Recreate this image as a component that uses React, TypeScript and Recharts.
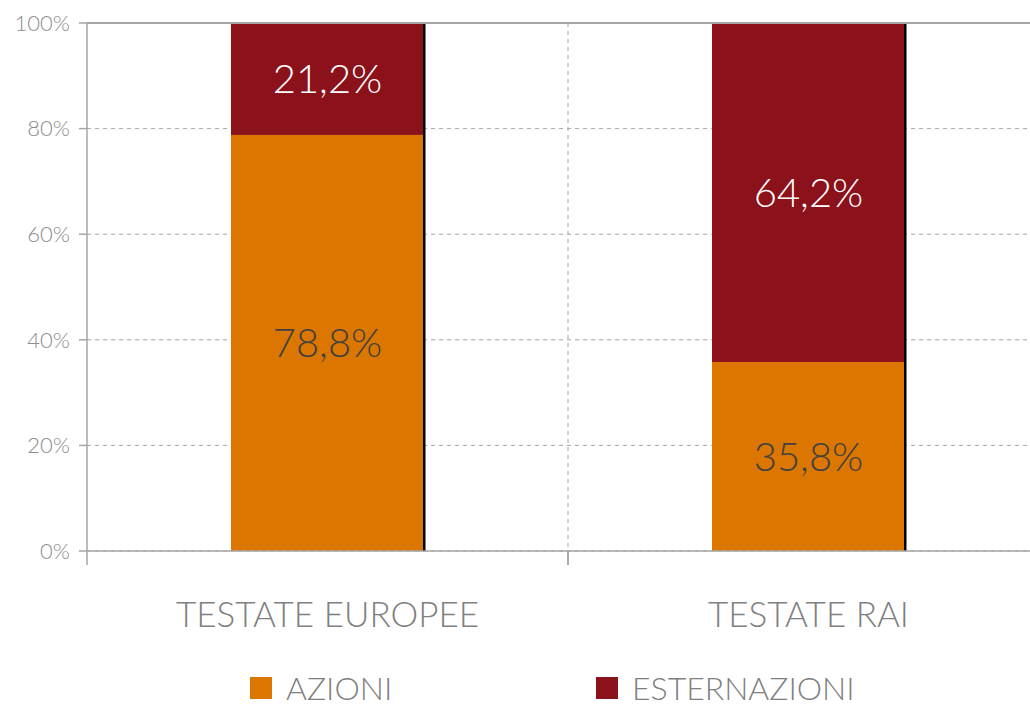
import { Bar, BarChart, CartesianGrid, LabelList, Legend, ReferenceLine, XAxis, YAxis } from "recharts";

const categories = ["TESTATE EUROPEE", "TESTATE RAI"];
const azioni = [78.8, 35.8];
const esternazioni = [21.2, 64.2];
const yTicks = [0, 20, 40, 60, 80, 100];

const ORANGE = "#db7700";
const RED = "#8b111b";
const AXIS = "#a6a6a6";
const FONT = "Lato, 'Open Sans', sans-serif";

const data = categories.map((name, i) => ({
  name,
  azioni: azioni[i],
  esternazioni: esternazioni[i],
}));

const CHART_W = 1050;
const CHART_H = 706;
const Y_W = 87;
const M_RIGHT = 1;
const HALF_BAND = (CHART_W - Y_W - M_RIGHT) / categories.length / 2;

const fmt = (v: number) => `${v.toFixed(1).replace(".", ",")}%`;

// bar with the thin dark shadow on its right side
function ShadowBar(props: any) {
  const { x, y, width, height, fill } = props;
  if (!height) return null;
  return (
    <g>
      <rect x={x} y={y} width={width} height={height} fill={fill} />
      <rect x={x + width - 1} y={y} width={2.5} height={height} fill="#000" />
    </g>
  );
}

function CatTick(props: any) {
  const { x, y, payload } = props;
  return (
    <g>
      <line x1={x - HALF_BAND} x2={x - HALF_BAND} y1={y - 8} y2={y + 6} stroke={AXIS} strokeWidth={1.5} />
      <line x1={x + HALF_BAND} x2={x + HALF_BAND} y1={y - 8} y2={y + 6} stroke={AXIS} strokeWidth={1.5} />
      <text
        x={x}
        y={y + 68}
        textAnchor="middle"
        fill="#808080"
        fontSize={35}
        fontWeight={300}
        fontFamily={FONT}
      >
        {payload.value}
      </text>
    </g>
  );
}

function LegendContent(props: any) {
  const { payload } = props;
  return (
    <div style={{ display: "flex", gap: 0, paddingLeft: 250, height: 34 }}>
      {(payload || []).map((p: any, i: number) => (
        <div
          key={p.value}
          style={{
            display: "flex",
            alignItems: "center",
            width: i === 0 ? 346 : "auto",
            fontFamily: FONT,
            fontWeight: 300,
            fontSize: 32,
            lineHeight: "34px",
            color: "#808080",
          }}
        >
          <span style={{ width: 22, height: 22, background: p.color, marginRight: 14, display: "inline-block" }} />
          {p.value}
        </div>
      ))}
    </div>
  );
}

export default function App() {
  return (
    <div
      style={{
        position: "fixed",
        left: 0,
        top: 0,
        width: 1030,
        height: 706,
        overflow: "hidden",
        background: "#fff",
      }}
    >
      <BarChart
        width={CHART_W}
        height={CHART_H}
        data={data}
        margin={{ top: 23, right: M_RIGHT, left: 0, bottom: 0 }}
      >
        <CartesianGrid
          stroke={AXIS}
          strokeDasharray="4 4"
          verticalCoordinatesGenerator={({ offset }: any) => [offset.left + offset.width / 2]}
        />
        <XAxis
          dataKey="name"
          height={121}
          axisLine={{ stroke: AXIS, strokeWidth: 1.5 }}
          tickLine={false}
          tick={<CatTick />}
          interval={0}
        />
        <YAxis
          width={Y_W}
          domain={[0, 100]}
          ticks={yTicks}
          tickFormatter={(v) => `${v}%`}
          axisLine={{ stroke: AXIS, strokeWidth: 1.5 }}
          tickLine={{ stroke: AXIS, strokeWidth: 1.5 }}
          tickSize={8}
          tickMargin={9}
          tick={{ fill: "#8c8c8c", fontSize: 22, fontWeight: 300, fontFamily: FONT }}
        />
        <ReferenceLine y={100} stroke={AXIS} strokeWidth={2} />
        <Legend
          verticalAlign="bottom"
          content={<LegendContent />}
          wrapperStyle={{ left: 0, bottom: 1 }}
        />
        <Bar
          dataKey="azioni"
          name="AZIONI"
          stackId="a"
          fill={ORANGE}
          barSize={193}
          shape={<ShadowBar />}
          isAnimationActive={false}
        >
          <LabelList
            dataKey="azioni"
            position="center"
            formatter={(v: any) => fmt(Number(v))}
            fill="#404040"
            fontSize={40}
            fontWeight={300}
            fontFamily={FONT}
          />
        </Bar>
        <Bar
          dataKey="esternazioni"
          name="ESTERNAZIONI"
          stackId="a"
          fill={RED}
          barSize={193}
          shape={<ShadowBar />}
          isAnimationActive={false}
        >
          <LabelList
            dataKey="esternazioni"
            position="center"
            formatter={(v: any) => fmt(Number(v))}
            fill="#ffffff"
            fontSize={40}
            fontWeight={300}
            fontFamily={FONT}
          />
        </Bar>
      </BarChart>
    </div>
  );
}
